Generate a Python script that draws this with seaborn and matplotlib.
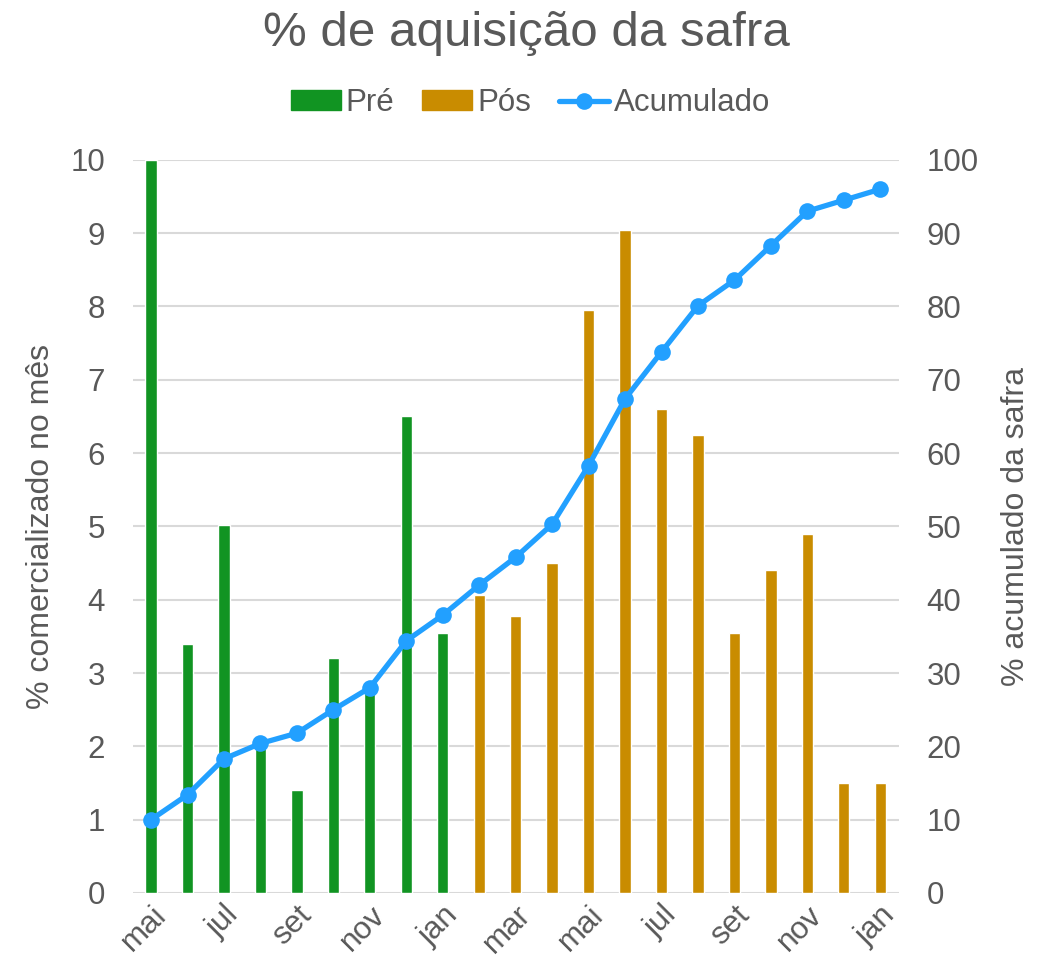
import matplotlib
matplotlib.use("Agg")
import matplotlib.pyplot as plt
import seaborn as sns
import pandas as pd
from matplotlib.patches import Patch
from matplotlib.lines import Line2D

# dados
meses = ["mai", "jun", "jul", "ago", "set", "out", "nov", "dez", "jan",
         "fev", "mar", "abr", "mai", "jun", "jul", "ago", "set", "out",
         "nov", "dez", "jan"]
fase = ["Pré"] * 9 + ["Pós"] * 12
mensal = [10.0, 3.4, 5.02, 2.05, 1.4, 3.2, 2.85, 6.5, 3.55,
          4.07, 3.78, 4.5, 7.95, 9.05, 6.6, 6.25, 3.55, 4.4, 4.9, 1.5, 1.5]
acumulado = [10.0, 13.4, 18.3, 20.4, 21.8, 25.0, 28.0, 34.4, 37.9,
             42.0, 45.8, 50.3, 58.3, 67.4, 73.8, 80.1, 83.6, 88.3, 93.0, 94.5, 96.0]

verde = "#119422"
ouro = "#C98C00"
azul = "#22A0FF"
cinza = "#595959"

df = pd.DataFrame({"pos": range(len(meses)), "mes": meses, "fase": fase,
                   "valor": mensal, "acum": acumulado})

sns.set_style("white")
plt.rcParams["font.family"] = ["Liberation Sans", "DejaVu Sans"]
plt.rcParams["xtick.major.size"] = 0
plt.rcParams["ytick.major.size"] = 0

fig = plt.figure(figsize=(10.46, 9.63), dpi=100)
ax = fig.add_axes([0.127, 0.0727, 0.732, 0.7613])

# barras mensais
sns.barplot(data=df, x="pos", y="valor", hue="fase", dodge=False, width=0.31,
            palette={"Pré": verde, "Pós": ouro}, ax=ax, legend=False,
            saturation=1, zorder=3)

ax.set_ylim(0, 10)
ax.set_xlim(-0.5, len(meses) - 0.5)
ax.set_yticks(range(0, 11))
ax.grid(axis="y", color="#D9D9D9", linewidth=1.5, zorder=0)
ax.set_axisbelow(True)
for s in ax.spines.values():
    s.set_visible(False)

ax.set_xticks(range(0, len(meses), 2))
ax.set_xticklabels(meses[::2], rotation=45, ha="right", rotation_mode="anchor",
                   fontsize=22.5, color=cinza)
ax.tick_params(axis="x", pad=5)
ax.tick_params(axis="y", labelsize=22.5, labelcolor=cinza, pad=20)
ax.set_xlabel("")
ax.set_ylabel("% comercializado no mês", fontsize=23, color=cinza, labelpad=10)

# linha acumulada no eixo direito
ax2 = ax.twinx()
sns.lineplot(data=df, x="pos", y="acum", color=azul, linewidth=3.8, marker="o",
             markersize=12, markeredgewidth=0, ax=ax2, zorder=5)
ax2.set_ylim(0, 100)
ax2.set_yticks(range(0, 101, 10))
ax2.tick_params(axis="y", labelsize=22.5, labelcolor=cinza, pad=20)
ax2.set_ylabel("% acumulado da safra", fontsize=23, color=cinza, labelpad=16)
ax2.set_xlabel("")
for s in ax2.spines.values():
    s.set_visible(False)
ax2.grid(False)

fig.text(0.503, 0.965, "% de aquisição da safra", ha="center", va="center",
         fontsize=35.5, color=cinza)

handles = [Patch(color=verde, label="Pré"),
           Patch(color=ouro, label="Pós"),
           Line2D([0], [0], color=azul, linewidth=3.8, marker="o",
                  markersize=12, markeredgewidth=0, label="Acumulado")]
fig.legend(handles=handles, loc="center", bbox_to_anchor=(0.507, 0.893), ncol=3,
           frameon=False, fontsize=22.5, labelcolor=cinza, handlelength=1.6,
           handleheight=0.6, handletextpad=0.15, columnspacing=0.9)

fig.savefig("out.png", dpi=100)
